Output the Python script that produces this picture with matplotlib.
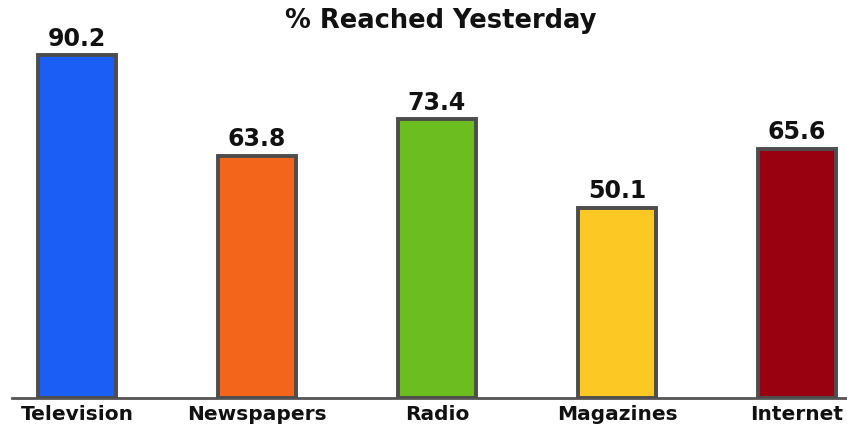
import matplotlib.pyplot as plt
import matplotlib.patheffects as pe

categories = ["Television", "Newspapers", "Radio", "Magazines", "Internet"]
reached = [90.2, 63.8, 73.4, 50.1, 65.6]
colors = ["#1b5ef5", "#f2651a", "#6cbd1f", "#fcc823", "#990010"]

fig = plt.figure(figsize=(8.47, 4.30), dpi=100)
ax = fig.add_axes([12 / 847, 32 / 430, 835 / 847, 380 / 430])

x = range(len(categories))
bars = ax.bar(x, reached, width=0.43, color=colors, edgecolor="#4d4d4d",
              linewidth=2.8, zorder=3)
for b in bars:
    b.set_path_effects([pe.SimplePatchShadow(offset=(2, -2), shadow_rgbFace="#777777", alpha=0.5),
                        pe.Normal()])

for i, v in enumerate(reached):
    ax.text(i, v + 1.2, f"{v}", ha="center", va="bottom", fontsize=17,
            fontweight="bold", color="#111111")

ax.set_xlim(-0.361, 4.278)
ax.set_ylim(0, 100)
ax.set_xticks(list(x))
ax.set_xticklabels(categories, fontsize=14.5, fontweight="bold", color="#111111")
ax.tick_params(axis="x", length=0, pad=5)
ax.set_yticks([])
for s in ["top", "left", "right"]:
    ax.spines[s].set_visible(False)
ax.spines["bottom"].set_color("#555555")
ax.spines["bottom"].set_linewidth(2)

fig.text(441 / 847, 1 - 21 / 430, "% Reached Yesterday", ha="center", va="center",
         fontsize=18.5, fontweight="bold", color="#111111")

fig.savefig("out.png", dpi=100)
